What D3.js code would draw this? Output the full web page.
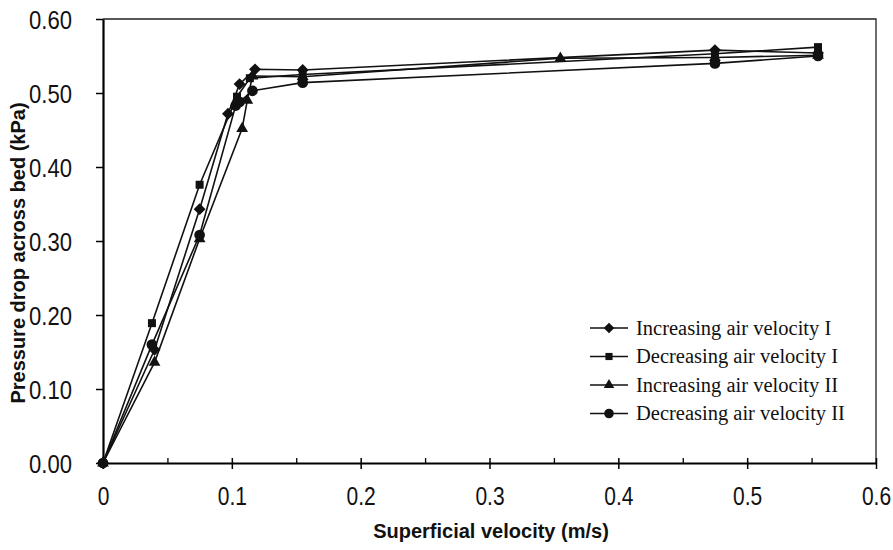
<!DOCTYPE html>
<html>
<head>
<meta charset="utf-8">
<script src="https://cdn.jsdelivr.net/npm/d3@7"></script>
<style>
body { margin: 0; background: #fff; }
text { fill: #111; }
</style>
</head>
<body>
<script>
// series: superficial velocity (m/s) vs pressure drop (kPa)
var seriesNames = ["Increasing air velocity I", "Decreasing air velocity I",
                   "Increasing air velocity II", "Decreasing air velocity II"];

var velIncI = [0, 0.040, 0.075, 0.097, 0.106, 0.118, 0.155, 0.475, 0.555];
var dpIncI  = [0, 0.153, 0.343, 0.472, 0.512, 0.532, 0.531, 0.558, 0.554];

var velDecI = [0, 0.038, 0.075, 0.104, 0.114, 0.155, 0.475, 0.555];
var dpDecI  = [0, 0.189, 0.376, 0.495, 0.520, 0.525, 0.553, 0.562];

var velIncII = [0, 0.040, 0.075, 0.108, 0.112, 0.116, 0.155, 0.355, 0.475, 0.555];
var dpIncII  = [0, 0.136, 0.303, 0.452, 0.490, 0.523, 0.522, 0.547, 0.548, 0.551];

var velDecII = [0, 0.038, 0.075, 0.103, 0.106, 0.116, 0.155, 0.475, 0.555];
var dpDecII  = [0, 0.160, 0.308, 0.483, 0.488, 0.503, 0.514, 0.540, 0.550];

var xTicks = [0, 0.1, 0.2, 0.3, 0.4, 0.5, 0.6];
var yTicks = [0, 0.1, 0.2, 0.3, 0.4, 0.5, 0.6];

var width = 893, height = 550;
var margin = {top: 19, right: 17, bottom: 87, left: 103};
var w = width - margin.left - margin.right,
    h = height - margin.top - margin.bottom;

var svg = d3.select("body").append("svg")
    .attr("width", width)
    .attr("height", height);

var g = svg.append("g")
    .attr("transform", "translate(" + margin.left + "," + margin.top + ")");

var x = d3.scaleLinear().domain([0, 0.6]).range([0, w]);
var y = d3.scaleLinear().domain([0, 0.6]).range([h, 0]);

// frame (top and right edges)
g.append("path")
    .attr("d", "M0,0H" + w + "V" + h)
    .attr("fill", "none")
    .attr("stroke", "#222")
    .attr("stroke-width", 1.3);

// x axis: major ticks crossing, minor ticks inside
g.append("g")
    .attr("transform", "translate(0," + h + ")")
    .call(d3.axisBottom(x).tickValues(d3.range(0.05, 0.6, 0.1)).tickSize(-5).tickFormat(""))
    .call(function(s) { s.select(".domain").remove(); s.selectAll("line").attr("stroke-width", 1.3); });

var xAxis = g.append("g")
    .attr("transform", "translate(0," + h + ")")
    .call(d3.axisBottom(x).tickValues(xTicks).tickSize(6).tickSizeOuter(0)
      .tickFormat(function(d) { return d === 0 ? "0" : d3.format(".1f")(d); }));
xAxis.select(".domain").attr("stroke-width", 2.2);
xAxis.selectAll(".tick line").attr("y1", -5).attr("stroke-width", 1.5);
xAxis.selectAll(".tick text")
    .attr("y", 0)
    .attr("dy", 0)
    .attr("transform", "translate(0,42) scale(1,1.2)")
    .style("font-family", "Liberation Sans, Arial, sans-serif")
    .style("font-size", "21px");

var yAxis = g.append("g")
    .call(d3.axisLeft(y).tickValues(yTicks).tickSize(7).tickSizeOuter(0)
      .tickFormat(d3.format(".2f")));
yAxis.select(".domain").attr("stroke-width", 2.2);
yAxis.selectAll(".tick line").attr("stroke-width", 1.5);
yAxis.selectAll(".tick text")
    .attr("x", 0)
    .attr("dy", 0)
    .attr("transform", "translate(-31,9) scale(1.05,1.2)")
    .style("font-family", "Liberation Sans, Arial, sans-serif")
    .style("font-size", "21px");

// axis titles
svg.append("text")
    .attr("x", 491)
    .attr("y", 538)
    .attr("text-anchor", "middle")
    .style("font-family", "Liberation Sans, Arial, sans-serif")
    .style("font-weight", "bold")
    .style("font-size", "20px")
    .text("Superficial velocity (m/s)");

svg.append("text")
    .attr("transform", "translate(25,253) rotate(-90)")
    .attr("text-anchor", "middle")
    .style("font-family", "Liberation Sans, Arial, sans-serif")
    .style("font-weight", "bold")
    .style("font-size", "20px")
    .text("Pressure drop across bed (kPa)");

var series = [
  {name: seriesNames[0], vel: velIncI, dp: dpIncI, sym: d3.symbolDiamond2, size: 90},
  {name: seriesNames[1], vel: velDecI, dp: dpDecI, sym: d3.symbolSquare, size: 64},
  {name: seriesNames[2], vel: velIncII, dp: dpIncII, sym: d3.symbolTriangle, size: 60},
  {name: seriesNames[3], vel: velDecII, dp: dpDecII, sym: d3.symbolCircle, size: 90}
];

var line = d3.line()
    .x(function(d) { return x(d[0]); })
    .y(function(d) { return y(d[1]); });

series.forEach(function(s) {
  var pts = s.vel.map(function(v, i) { return [v, s.dp[i]]; });
  g.append("path")
      .datum(pts)
      .attr("fill", "none")
      .attr("stroke", "#111")
      .attr("stroke-width", 1.6)
      .attr("d", line);
  g.selectAll(null)
      .data(pts)
      .enter().append("path")
      .attr("transform", function(d) { return "translate(" + x(d[0]) + "," + y(d[1]) + ")"; })
      .attr("d", d3.symbol().type(s.sym).size(s.size))
      .attr("fill", "#111");
});

// legend
var legend = svg.append("g").attr("transform", "translate(590,328)");
series.forEach(function(s, i) {
  var row = legend.append("g").attr("transform", "translate(0," + (i * 28.5) + ")");
  row.append("line")
      .attr("x1", 0).attr("x2", 38)
      .attr("stroke", "#111").attr("stroke-width", 1.6);
  row.append("path")
      .attr("transform", "translate(19,0)")
      .attr("d", d3.symbol().type(s.sym).size(s.size * 0.8))
      .attr("fill", "#111");
  row.append("text")
      .attr("x", 46)
      .attr("dy", "0.33em")
      .style("font-family", "Liberation Serif, Times New Roman, serif")
      .style("font-size", "20.5px")
      .text(s.name);
});
</script>
</body>
</html>
